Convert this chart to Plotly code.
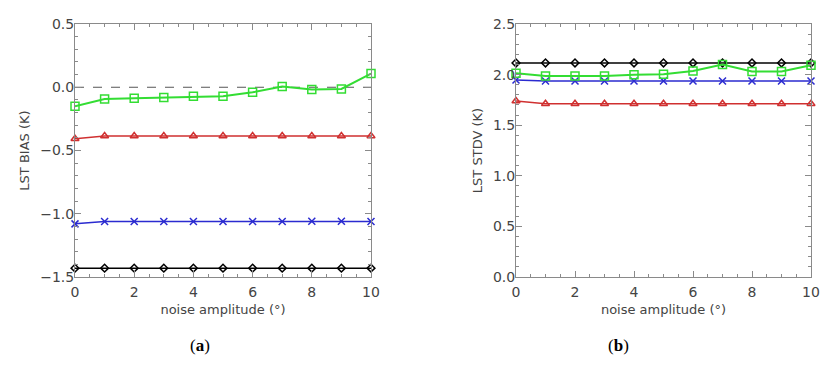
import plotly.graph_objects as go

noise = [0, 1, 2, 3, 4, 5, 6, 7, 8, 9, 10]

bias_green = [-0.15, -0.093, -0.087, -0.082, -0.071, -0.071, -0.04, 0.005, -0.018, -0.013, 0.108]
bias_red = [-0.407, -0.386, -0.386, -0.386, -0.386, -0.386, -0.386, -0.386, -0.386, -0.386, -0.386]
bias_blue = [-1.08, -1.062, -1.062, -1.062, -1.062, -1.062, -1.062, -1.062, -1.06, -1.06, -1.062]
bias_black = [-1.43, -1.43, -1.43, -1.43, -1.43, -1.43, -1.43, -1.43, -1.43, -1.43, -1.43]

stdv_green = [2.013, 1.986, 1.986, 1.986, 1.998, 2.004, 2.036, 2.10, 2.03, 2.03, 2.092]
stdv_red = [1.739, 1.712, 1.712, 1.712, 1.712, 1.712, 1.712, 1.712, 1.712, 1.712, 1.712]
stdv_blue = [1.947, 1.937, 1.937, 1.937, 1.937, 1.937, 1.937, 1.937, 1.937, 1.937, 1.937]
stdv_black = [2.115, 2.115, 2.115, 2.115, 2.115, 2.115, 2.115, 2.115, 2.115, 2.115, 2.115]

xlabel = "noise amplitude (°)"
ylabels = ["LST BIAS (K)", "LST STDV (K)"]
panel_labels = ["(<b>a</b>)", "(<b>b</b>)"]

# page body has an 8px margin; figure sized to fit the window
OFF = 8
W, H = 838 - 2 * OFF, 376 - 2 * OFF
FONT = "DejaVu Sans"
TXT = "#444444"
AX = "#8a8a8a"

def px(p):
    return (p - OFF) / W

def py(p):
    return 1 - (p - OFF) / H

fig = go.Figure()

series = [
    ("black", "diamond-open", 6),
    ("#2b2bd0", "x-thin-open", 7),
    ("#d03030", "triangle-up-open", 7),
    ("#33dd33", "square-open", 8),
]

def add_panel(xa, ya, data):
    for (color, sym, sz), vals in zip(series, data):
        fig.add_trace(go.Scatter(
            x=noise, y=vals, mode="lines+markers",
            line=dict(color=color, width=2 if sym == "square-open" else 1.5),
            marker=dict(symbol=sym, size=sz, color=color,
                        line=dict(color=color, width=1.5)),
            xaxis=xa, yaxis=ya, showlegend=False, cliponaxis=False,
        ))

add_panel("x", "y", [bias_black, bias_blue, bias_red, bias_green])
add_panel("x2", "y2", [stdv_black, stdv_blue, stdv_red, stdv_green])

xd1 = [px(75), px(371)]
xd2 = [px(516), px(811)]
yd = [py(277), py(24)]

def xaxis(dom, anchor):
    return dict(
        domain=dom, anchor=anchor, range=[0, 10], dtick=2, tick0=0,
        automargin=False,
        ticks="inside", ticklen=6, tickcolor=AX, showline=True, linecolor=AX,
        linewidth=1, mirror="ticks", showgrid=False, zeroline=False,
        minor=dict(ticks="inside", ticklen=3, dtick=0.5, tickcolor=AX, showgrid=False),
        ticklabelstandoff=2,
        tickfont=dict(family=FONT, size=14, color=TXT),
        title=dict(text=xlabel, font=dict(family=FONT, size=13, color=TXT), standoff=6),
    )

def yaxis(dom, anchor, rng, title):
    return dict(
        domain=dom, anchor=anchor, range=rng, dtick=0.5,
        automargin=False,
        ticks="inside", ticklen=6, tickcolor=AX, showline=True, linecolor=AX,
        linewidth=1, mirror="ticks", showgrid=False, zeroline=False,
        minor=dict(ticks="inside", ticklen=3, dtick=0.1, tickcolor=AX, showgrid=False),
        tickformat=".1f",
        ticklabelstandoff=-3,
        tickfont=dict(family=FONT, size=14, color=TXT),
        title=dict(text=title, font=dict(family=FONT, size=13, color=TXT), standoff=7),
    )

fig.update_layout(
    width=W, height=H,
    margin=dict(l=0, r=0, t=0, b=0),
    paper_bgcolor="white", plot_bgcolor="white",
    xaxis=xaxis(xd1, "y"),
    yaxis=yaxis(yd, "x", [-1.5, 0.5], ylabels[0]),
    xaxis2=xaxis(xd2, "y2"),
    yaxis2=yaxis(yd, "x2", [0, 2.5], ylabels[1]),
    shapes=[dict(type="line", xref="x", yref="y", x0=0, x1=10, y0=0, y1=0,
                 line=dict(color="#555555", width=1, dash="dash"), layer="below")],
    annotations=[
        dict(text=panel_labels[0], x=px(188), y=py(357), xref="paper", yref="paper",
             showarrow=False, font=dict(family="Liberation Serif", size=17, color="black")),
        dict(text=panel_labels[1], x=px(631), y=py(357), xref="paper", yref="paper",
             showarrow=False, font=dict(family="Liberation Serif", size=17, color="black")),
    ],
)

fig.write_html("out.html")
